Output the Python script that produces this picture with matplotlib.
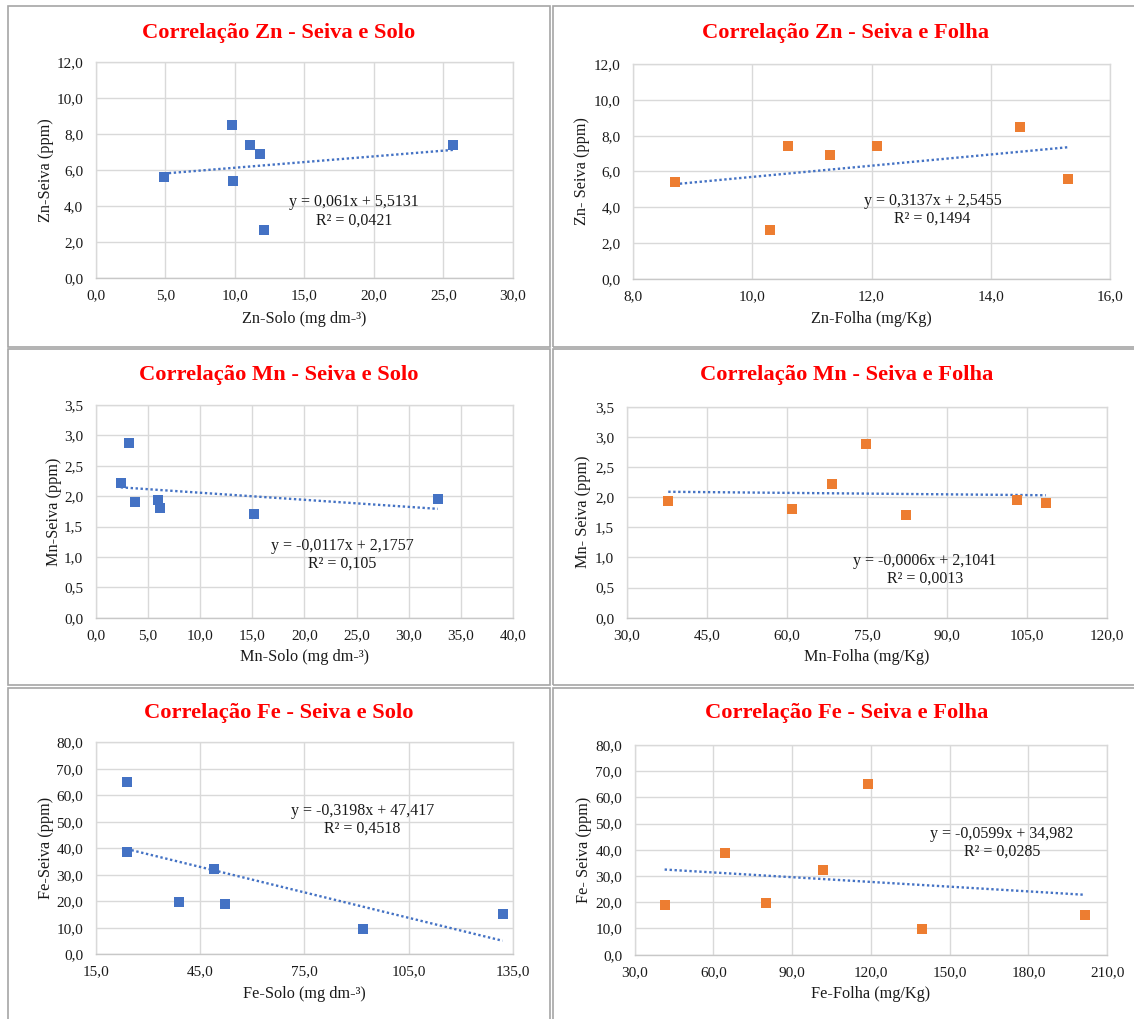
import numpy as np
import matplotlib
matplotlib.use("Agg")
import matplotlib.pyplot as plt
from matplotlib.patches import Rectangle
from matplotlib.ticker import FuncFormatter, FixedLocator

plt.rcParams['font.family'] = ['Liberation Serif', 'DejaVu Serif']

# ---------------- data ----------------
zn_solo = [4.9, 9.8, 9.9, 11.1, 11.8, 12.1, 25.7]
zn_seiva_solo = [5.6, 8.5, 5.4, 7.4, 6.9, 2.7, 7.4]

zn_folha = [8.7, 10.3, 10.6, 11.3, 12.1, 14.5, 15.3]
zn_seiva_folha = [5.4, 2.7, 7.4, 6.9, 7.4, 8.5, 5.6]

mn_solo = [2.4, 3.2, 3.8, 6.0, 6.2, 15.2, 32.8]
mn_seiva_solo = [2.21, 2.88, 1.91, 1.93, 1.80, 1.71, 1.96]

mn_folha = [37.8, 60.9, 68.5, 74.9, 82.3, 103.1, 108.5]
mn_seiva_folha = [1.93, 1.80, 2.21, 2.88, 1.71, 1.96, 1.91]

fe_solo = [23.9, 23.9, 38.9, 48.9, 52.1, 92.0, 132.0]
fe_seiva_solo = [65.0, 38.7, 19.9, 32.2, 19.1, 9.7, 15.3]

fe_folha = [41.4, 64.3, 80.1, 101.8, 119.0, 139.3, 201.4]
fe_seiva_folha = [19.1, 38.7, 19.9, 32.2, 65.0, 9.7, 15.3]

titles = ["Correlação Zn - Seiva e Solo", "Correlação Zn - Seiva e Folha",
          "Correlação Mn - Seiva e Solo", "Correlação Mn - Seiva e Folha",
          "Correlação Fe - Seiva e Solo", "Correlação Fe - Seiva e Folha"]
xlabels = ["Zn-Solo (mg dm-³)", "Zn-Folha (mg/Kg)", "Mn-Solo (mg dm-³)",
           "Mn-Folha (mg/Kg)", "Fe-Solo (mg dm-³)", "Fe-Folha (mg/Kg)"]
ylabels = ["Zn-Seiva (ppm)", "Zn- Seiva (ppm)", "Mn-Seiva (ppm)",
           "Mn- Seiva (ppm)", "Fe-Seiva (ppm)", "Fe- Seiva (ppm)"]
equations = ["y = 0,061x + 5,5131\nR² = 0,0421",
             "y = 0,3137x + 2,5455\nR² = 0,1494",
             "y = -0,0117x + 2,1757\nR² = 0,105",
             "y = -0,0006x + 2,1041\nR² = 0,0013",
             "y = -0,3198x + 47,417\nR² = 0,4518",
             "y = -0,0599x + 34,982\nR² = 0,0285"]
xticks_list = [[0, 5, 10, 15, 20, 25, 30], [8, 10, 12, 14, 16],
               [0, 5, 10, 15, 20, 25, 30, 35, 40], [30, 45, 60, 75, 90, 105, 120],
               [15, 45, 75, 105, 135], [30, 60, 90, 120, 150, 180, 210]]
yticks_list = [[0, 2, 4, 6, 8, 10, 12], [0, 2, 4, 6, 8, 10, 12],
               [0, 0.5, 1, 1.5, 2, 2.5, 3, 3.5], [0, 0.5, 1, 1.5, 2, 2.5, 3, 3.5],
               [0, 10, 20, 30, 40, 50, 60, 70, 80], [0, 10, 20, 30, 40, 50, 60, 70, 80]]
xs = [zn_solo, zn_folha, mn_solo, mn_folha, fe_solo, fe_folha]
ys = [zn_seiva_solo, zn_seiva_folha, mn_seiva_solo, mn_seiva_folha, fe_seiva_solo, fe_seiva_folha]
colors = ["#4472C4", "#ED7D31", "#4472C4", "#ED7D31", "#4472C4", "#ED7D31"]

# ---------------- layout (pixels) ----------------
W, H = 1134, 1019
fig = plt.figure(figsize=(W / 100, H / 100), dpi=100)

axes_px = [(95.7, 62, 513, 278.3), (633.2, 64.3, 1109.8, 278.7),
           (95.7, 405, 513, 617.7), (626.6, 406.7, 1107.2, 617.7),
           (95.7, 742.3, 513, 954.3), (634.7, 745, 1107.2, 954.7)]
title_pos = [(279, 33), (846, 33), (279, 375), (847, 375), (279, 712.7), (847, 712.7)]
xlabel_y = [319, 319, 657, 657, 994, 994]
ylabel_x = [46, 582, 53.6, 582.7, 45.7, 583.8]
eq_pos = [(0.619, 0.31), (0.628, 0.320), (0.590, 0.295), (0.621, 0.225), (0.639, 0.636), (0.777, 0.533)]
boxes = [(8, 6, 549.5, 346.5), (552.5, 6, 1145, 346.5),
         (8, 349.5, 549.5, 685), (552.5, 349.5, 1145, 685),
         (8, 688, 549.5, 1030), (552.5, 688, 1145, 1030)]

def fx(x):
    return x / W

def fy(y):
    return 1 - y / H

for (l, t, r, b) in boxes:
    fig.patches.append(Rectangle((fx(l), fy(b)), fx(r) - fx(l), fy(t) - fy(b),
                                 transform=fig.transFigure, fill=False,
                                 edgecolor="#A6A6A6", linewidth=1.2, zorder=0))

fmt = FuncFormatter(lambda v, p: f"{v:.1f}".replace(".", ","))

for i in range(6):
    l, t, r, b = axes_px[i]
    ax = fig.add_axes([fx(l), fy(b), fx(r) - fx(l), fy(t) - fy(b)])
    x = np.array(xs[i])
    y = np.array(ys[i])
    ax.scatter(x, y, marker="s", s=42, color=colors[i], zorder=3, linewidths=0)
    m, c = np.polyfit(x, y, 1)
    xx = np.array([x.min(), x.max()])
    ax.plot(xx, m * xx + c, color="#4472C4", linewidth=1.7,
            linestyle=(0, (1, 1.1)), zorder=2)
    xt = xticks_list[i]
    yt = yticks_list[i]
    ax.set_xlim(xt[0], xt[-1])
    ax.set_ylim(yt[0], yt[-1])
    ax.xaxis.set_major_locator(FixedLocator(xt))
    ax.yaxis.set_major_locator(FixedLocator(yt))
    ax.xaxis.set_major_formatter(fmt)
    ax.yaxis.set_major_formatter(fmt)
    ax.grid(True, color="#D9D9D9", linewidth=1.0)
    ax.set_axisbelow(True)
    for s in ax.spines.values():
        s.set_color("#D9D9D9")
        s.set_linewidth(1.0)
    ax.spines["bottom"].set_color("#C8C8C8")
    ax.tick_params(length=0, labelsize=11, colors="#1a1a1a")
    ax.tick_params(axis="y", pad=9)
    ax.tick_params(axis="x", pad=8)
    ax.text(eq_pos[i][0], eq_pos[i][1], equations[i], transform=ax.transAxes,
            ha="center", va="center", fontsize=11.5, color="#1a1a1a", linespacing=1.15)
    fig.text(fx((l + r) / 2), fy(xlabel_y[i]), xlabels[i], ha="center", va="center",
             fontsize=11.7, color="#1a1a1a")
    fig.text(fx(ylabel_x[i]), fy((t + b) / 2), ylabels[i], ha="center", va="center",
             rotation=90, fontsize=11.7, color="#1a1a1a")
    fig.text(fx(title_pos[i][0]), fy(title_pos[i][1]), titles[i], ha="center",
             va="center", fontsize=16.2, fontweight="bold", color="#FF0000")

fig.savefig("out.png", dpi=100, facecolor="white")
